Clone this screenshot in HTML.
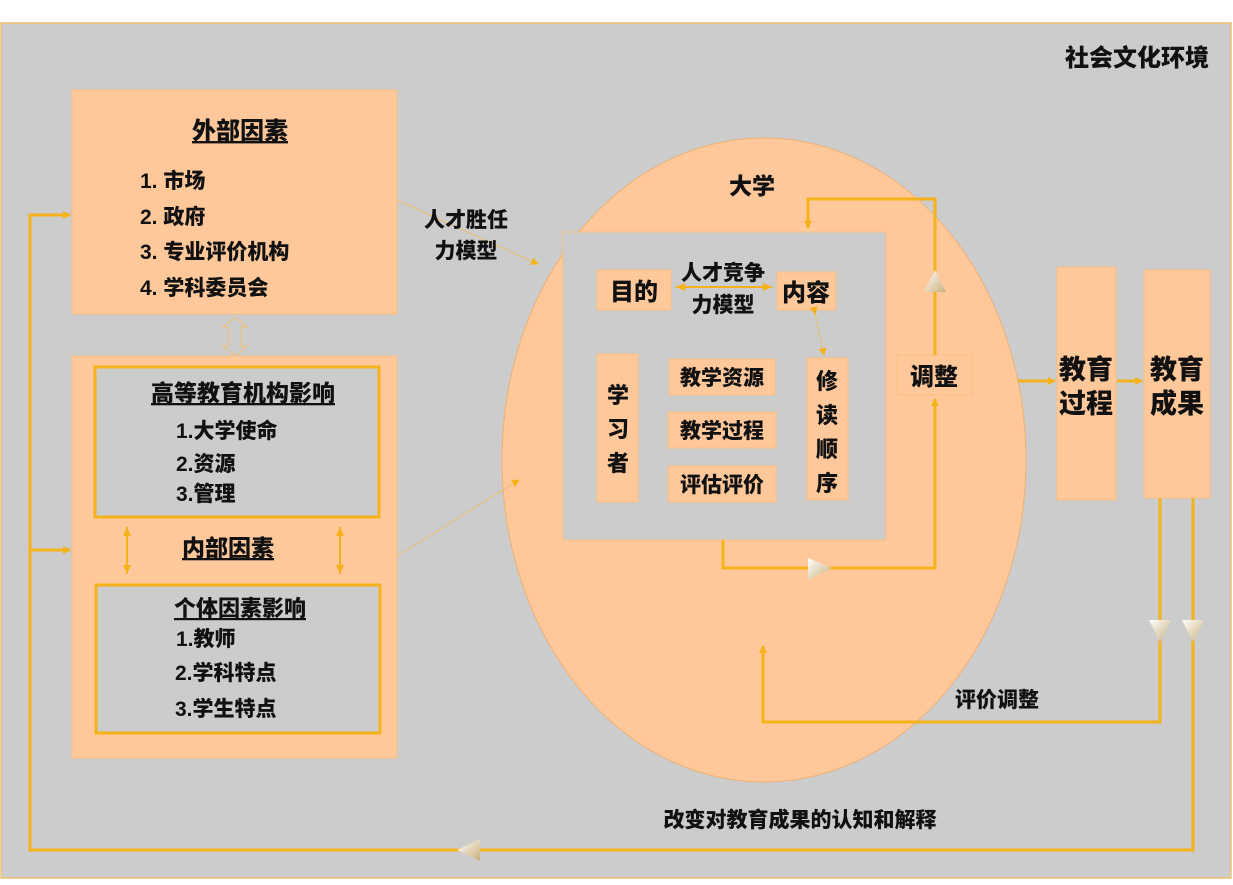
<!DOCTYPE html>
<html><head><meta charset="utf-8"><style>
body{margin:0;background:#fff;width:1233px;height:880px;overflow:hidden}
svg text{font-family:"Liberation Sans","Noto Sans CJK SC",sans-serif;font-weight:900;fill:#111}
</style></head><body>
<svg width="1233" height="880" viewBox="0 0 1233 880">
<defs>
<marker id="a" markerWidth="8" markerHeight="8" refX="7" refY="4" orient="auto" markerUnits="userSpaceOnUse"><path d="M0,0L8,4L0,8z" fill="#f5b21a"/></marker>
<marker id="s" markerWidth="10" markerHeight="10" refX="9" refY="5" orient="auto-start-reverse" markerUnits="userSpaceOnUse"><path d="M0,1L9,5L0,9z" fill="#f5b21a"/></marker>
<linearGradient id="g" x1="0" y1="0" x2="1" y2="1"><stop offset="0" stop-color="#fff"/><stop offset="1" stop-color="#c9b07a"/></linearGradient>
</defs>
<rect x="1" y="23" width="1230" height="855" fill="#cccccc" stroke="#f0c070" stroke-width="1.5"/>
<text x="1137" y="66" font-size="24" text-anchor="middle">社会文化环境</text>

<rect x="72" y="90" width="325" height="224" fill="#ffc89b" stroke="#f5c080"/>
<text x="240" y="139" font-size="24" text-anchor="middle" text-decoration="underline">外部因素</text>
<text x="140" y="188" font-size="21">1. 市场</text>
<text x="140" y="224" font-size="21">2. 政府</text>
<text x="140" y="259" font-size="21">3. 专业评价机构</text>
<text x="140" y="295" font-size="21">4. 学科委员会</text>
<path d="M235,317 L247,327 L241,327 L241,346 L247,346 L235,356 L223,346 L229,346 L229,327 L223,327 Z" fill="none" stroke="#f0c070" stroke-width="1"/>

<rect x="72" y="356" width="325" height="402" fill="#ffc89b" stroke="#f5c080"/>
<rect x="95" y="367" width="284" height="150" fill="#cccccc" stroke="#f5b21a" stroke-width="3"/>
<text x="243" y="401" font-size="23" text-anchor="middle" text-decoration="underline">高等教育机构影响</text>
<text x="176" y="438" font-size="21">1.大学使命</text>
<text x="176" y="471" font-size="21">2.资源</text>
<text x="176" y="501" font-size="21">3.管理</text>
<text x="228" y="556" font-size="23" text-anchor="middle" text-decoration="underline">内部因素</text>
<rect x="96" y="585" width="284" height="148" fill="#cccccc" stroke="#f5b21a" stroke-width="3"/>
<text x="240" y="616" font-size="22" text-anchor="middle" text-decoration="underline">个体因素影响</text>
<text x="176" y="646" font-size="21">1.教师</text>
<text x="175" y="680" font-size="21">2.学科特点</text>
<text x="175" y="716" font-size="21">3.学生特点</text>
<line x1="127" y1="527" x2="127" y2="574" stroke="#f5b21a" stroke-width="2" marker-start="url(#s)" marker-end="url(#s)"/>
<line x1="340" y1="527" x2="340" y2="574" stroke="#f5b21a" stroke-width="2" marker-start="url(#s)" marker-end="url(#s)"/>

<ellipse cx="764" cy="460" rx="262" ry="322" fill="#ffc89b" stroke="#f0b070" stroke-width="1"/>
<text x="752" y="194" font-size="23" text-anchor="middle">大学</text>
<rect x="563" y="232" width="323" height="308" fill="#cccccc" stroke="#f5c080"/>
<rect x="597" y="270" width="74" height="40" fill="#ffc89b" stroke="#f5c080"/>
<text x="634" y="300" font-size="24" text-anchor="middle">目的</text>
<rect x="777" y="272" width="59" height="38" fill="#ffc89b" stroke="#f5c080"/>
<text x="806" y="301" font-size="24" text-anchor="middle">内容</text>
<text x="723" y="280" font-size="21" text-anchor="middle">人才竞争</text>
<text x="723" y="312" font-size="21" text-anchor="middle">力模型</text>
<line x1="676" y1="287" x2="772" y2="287" stroke="#f5b21a" stroke-width="2" marker-start="url(#s)" marker-end="url(#s)"/>
<line x1="815" y1="314" x2="824" y2="355" stroke="#f5b21a" stroke-width="1" stroke-dasharray="2,2" marker-start="url(#a)" marker-end="url(#a)"/>
<rect x="597" y="354" width="41" height="148" fill="#ffc89b" stroke="#f5c080"/>
<text x="618" y="403" font-size="22" text-anchor="middle">学</text>
<text x="618" y="437" font-size="22" text-anchor="middle">习</text>
<text x="618" y="471" font-size="22" text-anchor="middle">者</text>
<rect x="669" y="359" width="106" height="36" fill="#ffc89b" stroke="#f5c080"/>
<text x="722" y="385" font-size="21" text-anchor="middle">教学资源</text>
<rect x="668" y="412" width="108" height="36" fill="#ffc89b" stroke="#f5c080"/>
<text x="722" y="438" font-size="21" text-anchor="middle">教学过程</text>
<rect x="668" y="466" width="108" height="36" fill="#ffc89b" stroke="#f5c080"/>
<text x="722" y="492" font-size="21" text-anchor="middle">评估评价</text>
<rect x="807" y="358" width="41" height="142" fill="#ffc89b" stroke="#f5c080"/>
<text x="827" y="389" font-size="22" text-anchor="middle">修</text>
<text x="827" y="423" font-size="22" text-anchor="middle">读</text>
<text x="827" y="457" font-size="22" text-anchor="middle">顺</text>
<text x="827" y="491" font-size="22" text-anchor="middle">序</text>
<rect x="897" y="355" width="75" height="40" fill="#ffc89b" stroke="#f5c080"/>
<text x="934" y="385" font-size="24" text-anchor="middle">调整</text>

<polyline points="723,540 723,568 935,568 935,399" fill="none" stroke="#f5b21a" stroke-width="3" marker-end="url(#a)"/>
<polyline points="935,355 935,199 808,199 808,228" fill="none" stroke="#f5b21a" stroke-width="3" marker-end="url(#a)"/>
<path d="M808,558 L832,568 L808,580 Z" fill="url(#g)"/>
<path d="M935,270 L946,292 L924,292 Z" fill="url(#g)"/>

<line x1="397" y1="200" x2="538" y2="264" stroke="#e8c070" stroke-width="1" marker-end="url(#a)"/>
<line x1="397" y1="556" x2="519" y2="480" stroke="#e8c070" stroke-width="1" marker-end="url(#a)"/>
<text x="466" y="227" font-size="21" text-anchor="middle">人才胜任</text>
<text x="466" y="258" font-size="21" text-anchor="middle">力模型</text>

<rect x="1057" y="267" width="59" height="233" fill="#ffc89b" stroke="#f5c080"/>
<text x="1086" y="379" font-size="27" text-anchor="middle">教育</text>
<text x="1086" y="413" font-size="27" text-anchor="middle">过程</text>
<rect x="1144" y="270" width="66" height="228" fill="#ffc89b" stroke="#f5c080"/>
<text x="1177" y="379" font-size="27" text-anchor="middle">教育</text>
<text x="1177" y="413" font-size="27" text-anchor="middle">成果</text>
<line x1="1018" y1="381" x2="1055" y2="381" stroke="#f5b21a" stroke-width="3" marker-end="url(#a)"/>
<line x1="1117" y1="381" x2="1142" y2="381" stroke="#f5b21a" stroke-width="3" marker-end="url(#a)"/>

<polyline points="1160,498 1160,722 763,722 763,646" fill="none" stroke="#f5b21a" stroke-width="3" marker-end="url(#a)"/>
<polyline points="1193,498 1193,850 30,850 30,215 70,215" fill="none" stroke="#f5b21a" stroke-width="3" marker-end="url(#a)"/>
<line x1="30" y1="550" x2="70" y2="550" stroke="#f5b21a" stroke-width="3" marker-end="url(#a)"/>
<path d="M1149,620 L1171,620 L1160,642 Z" fill="url(#g)"/>
<path d="M1182,620 L1204,620 L1193,642 Z" fill="url(#g)"/>
<path d="M457,850 L480,839 L480,861 Z" fill="url(#g)"/>
<text x="997" y="707" font-size="21" text-anchor="middle">评价调整</text>
<text x="800" y="827" font-size="21" text-anchor="middle">改变对教育成果的认知和解释</text>
</svg>
</body></html>
